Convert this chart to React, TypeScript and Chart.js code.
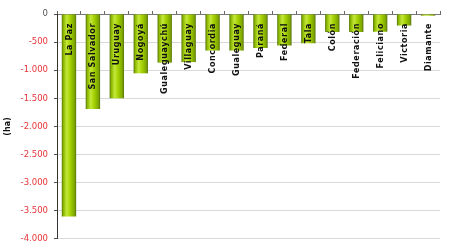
import React, { useEffect, useRef } from "react";
import { Chart, registerables } from "chart.js";

Chart.register(...registerables);

const categories = [
  "La Paz", "San Salvador", "Uruguay", "Nogoyá", "Gualeguaychú", "Villaguay",
  "Concordia", "Gualeguay", "Paraná", "Federal", "Tala", "Colón",
  "Federación", "Feliciano", "Victoria", "Diamante",
];
const values = [
  -3600, -1690, -1500, -1055, -865, -855,
  -650, -650, -605, -560, -520, -320,
  -320, -315, -205, -30,
];
const yTitle = "(ha)";
const yMin = -4000;
const yMax = 0;
const yStep = 500;

const BAR_PCT = 0.6;

function fmt(v: number): string {
  const s = Math.abs(v).toString().replace(/\B(?=(\d{3})+(?!\d))/g, ".");
  return (v < 0 ? "-" : "") + s;
}

const gradPlugin = {
  id: "barGradient",
  beforeDatasetsDraw(chart: any) {
    const ctx = chart.ctx;
    const meta = chart.getDatasetMeta(0);
    meta.data.forEach((el: any) => {
      const w = el.width;
      if (!isFinite(el.x) || !isFinite(w)) return;
      const g = ctx.createLinearGradient(el.x - w / 2, 0, el.x + w / 2, 0);
      g.addColorStop(0, "#56730a");
      g.addColorStop(0.12, "#8cb800");
      g.addColorStop(0.35, "#c4e838");
      g.addColorStop(0.6, "#a2d000");
      g.addColorStop(0.88, "#7ea600");
      g.addColorStop(1, "#56730a");
      el.options = Object.assign({}, el.options, { backgroundColor: g });
    });
  },
};

const labelPlugin = {
  id: "barLabels",
  afterDatasetsDraw(chart: any) {
    const ctx = chart.ctx;
    const meta = chart.getDatasetMeta(0);
    const top = chart.scales.y.getPixelForValue(0);
    ctx.save();
    ctx.font = "bold 8px 'DejaVu Sans', Verdana, sans-serif";
    try { (ctx as any).letterSpacing = "0.6px"; } catch (e) {}
    ctx.fillStyle = "#111";
    ctx.textAlign = "right";
    ctx.textBaseline = "middle";
    meta.data.forEach((el: any, i: number) => {
      ctx.save();
      ctx.translate(el.x + 0.5, top + 9);
      ctx.rotate(-Math.PI / 2);
      ctx.fillText(categories[i], 0, 0);
      ctx.restore();
    });
    ctx.restore();
  },
};

export default function App() {
  const ref = useRef<HTMLCanvasElement | null>(null);
  useEffect(() => {
    if (!ref.current) return;
    const chart = new Chart(ref.current, {
      type: "bar",
      data: {
        labels: categories,
        datasets: [
          {
            data: values,
            backgroundColor: "#99cc00",
            borderWidth: 0,
            barPercentage: BAR_PCT,
            categoryPercentage: 1,
          },
        ],
      },
      options: {
        animation: false,
        responsive: false,
        maintainAspectRatio: false,
        layout: { padding: { left: 0, top: 0, right: 10, bottom: 9 } },
        plugins: { legend: { display: false }, tooltip: { enabled: false } },
        scales: {
          x: {
            position: "top",
            afterFit: (s: any) => { s.height = 14; },
            ticks: { display: false },
            grid: {
              display: true,
              drawOnChartArea: false,
              offset: true,
              tickLength: 3,
              tickColor: "#666",
            },
            border: { display: true, color: "#777", width: 1 },
          },
          y: {
            min: yMin,
            max: yMax,
            afterFit: (s: any) => { s.width = 57; },
            ticks: {
              stepSize: yStep,
              padding: 6,
              font: { family: "'DejaVu Sans', Verdana, sans-serif", size: 8.5 },
              color: (c: any) => (c.tick && c.tick.value === 0 ? "#555" : "#e8343a"),
              callback: (v: any) => fmt(Number(v)),
            },
            grid: {
              color: "#d9d9d9",
              tickColor: "#555",
              tickLength: 3,
            },
            border: { display: true, color: "#333", width: 1 },
            title: {
              display: true,
              text: yTitle,
              color: "#111",
              font: { family: "'DejaVu Sans', Verdana, sans-serif", size: 8, weight: "bold" },
              padding: { top: 3, bottom: 0 },
            },
          },
        },
      },
      plugins: [gradPlugin, labelPlugin],
    });
    return () => chart.destroy();
  }, []);
  return (
    <div style={{ position: "absolute", left: 0, top: 0, width: 450, height: 250, background: "#fff" }}>
      <canvas ref={ref} width={450} height={250} style={{ width: 450, height: 250 }} />
    </div>
  );
}
